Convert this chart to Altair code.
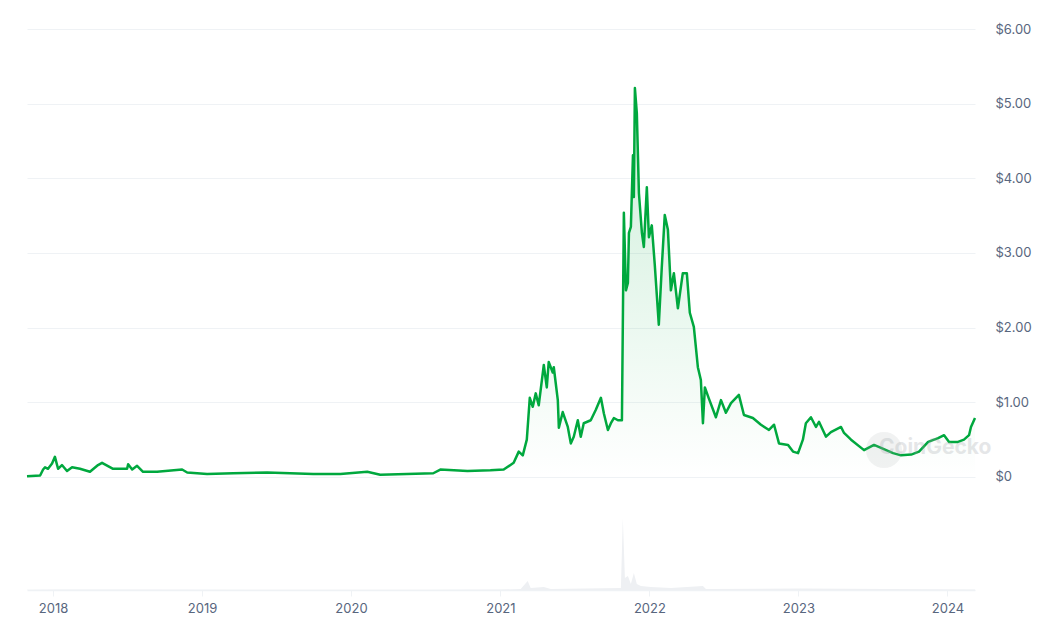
import altair as alt
import pandas as pd
import numpy as np

# Price series: time in decimal years, price in USD
price_t = [
    2017.825, 2017.913, 2017.933, 2017.946, 2017.966, 2017.993, 2018.013, 2018.034, 2018.060, 2018.094,
    2018.128, 2018.181, 2018.248, 2018.302, 2018.329, 2018.403, 2018.497, 2018.504, 2018.531, 2018.564,
    2018.604, 2018.698, 2018.866, 2018.900, 2019.034, 2019.209, 2019.437, 2019.746, 2019.928, 2020.109,
    2020.196, 2020.552, 2020.599, 2020.781, 2020.935, 2021.022, 2021.089, 2021.123, 2021.150, 2021.177,
    2021.197, 2021.217, 2021.237, 2021.257, 2021.291, 2021.311, 2021.324, 2021.351, 2021.358, 2021.385,
    2021.392, 2021.418, 2021.452, 2021.472, 2021.492, 2021.519, 2021.539, 2021.559, 2021.606, 2021.640,
    2021.674, 2021.694, 2021.721, 2021.741, 2021.761, 2021.788, 2021.815, 2021.828, 2021.842, 2021.855,
    2021.862, 2021.875, 2021.889, 2021.895, 2021.902, 2021.915, 2021.929, 2021.949, 2021.962, 2021.982,
    2021.996, 2022.016, 2022.036, 2022.063, 2022.083, 2022.103, 2022.124, 2022.144, 2022.164, 2022.191,
    2022.224, 2022.251, 2022.271, 2022.298, 2022.325, 2022.345, 2022.359, 2022.372, 2022.399, 2022.446,
    2022.480, 2022.513, 2022.547, 2022.600, 2022.634, 2022.694, 2022.748, 2022.802, 2022.836, 2022.869,
    2022.930, 2022.963, 2022.997, 2023.030, 2023.050, 2023.084, 2023.118, 2023.138, 2023.185, 2023.218,
    2023.286, 2023.306, 2023.353, 2023.440, 2023.507, 2023.554, 2023.635, 2023.688, 2023.756, 2023.809,
    2023.870, 2023.937, 2023.977, 2024.011, 2024.071, 2024.111, 2024.145, 2024.158, 2024.185,
]
price_usd = [
    0.01, 0.02, 0.10, 0.13, 0.11, 0.18, 0.27, 0.11, 0.16, 0.08,
    0.13, 0.11, 0.07, 0.16, 0.19, 0.11, 0.11, 0.17, 0.10, 0.15,
    0.07, 0.07, 0.10, 0.06, 0.04, 0.05, 0.06, 0.04, 0.04, 0.07,
    0.03, 0.05, 0.10, 0.08, 0.09, 0.10, 0.19, 0.34, 0.29, 0.50,
    1.06, 0.94, 1.12, 0.96, 1.50, 1.20, 1.54, 1.40, 1.47, 1.03,
    0.66, 0.87, 0.67, 0.45, 0.54, 0.76, 0.54, 0.72, 0.76, 0.90,
    1.06, 0.85, 0.63, 0.72, 0.79, 0.76, 0.76, 3.54, 2.50, 2.60,
    3.27, 3.35, 4.31, 3.75, 5.21, 4.87, 3.80, 3.27, 3.08, 3.88,
    3.21, 3.37, 2.84, 2.04, 2.81, 3.51, 3.31, 2.50, 2.73, 2.26,
    2.73, 2.73, 2.20, 2.01, 1.47, 1.30, 0.72, 1.20, 1.05, 0.80,
    1.03, 0.86, 0.99, 1.10, 0.83, 0.79, 0.70, 0.63, 0.70, 0.45,
    0.43, 0.34, 0.32, 0.50, 0.72, 0.80, 0.67, 0.74, 0.54, 0.60,
    0.67, 0.59, 0.50, 0.36, 0.43, 0.39, 0.32, 0.29, 0.30, 0.34,
    0.47, 0.52, 0.56, 0.47, 0.47, 0.50, 0.56, 0.67, 0.79,
]

# Trading volume (arbitrary units)
vol_t = [2017.825, 2018.013, 2018.5, 2019.5, 2020.5, 2021.0, 2021.136, 2021.183, 2021.203, 2021.291,
         2021.338, 2021.808, 2021.821, 2021.835, 2021.855, 2021.875, 2021.895, 2021.915, 2021.942,
         2022.009, 2022.144, 2022.359, 2022.379, 2023.016, 2024.185]
vol_units = [3, 6, 4, 2, 2, 4, 10, 90, 20, 30,
             10, 20, 720, 120, 140, 60, 170, 60, 40,
             30, 20, 40, 10, 15, 5]

year_ticks = ["2018", "2019", "2020", "2021", "2022", "2023", "2024"]
price_ticks = [0, 1, 2, 3, 4, 5, 6]


def to_date(t):
    y = int(np.floor(t))
    return pd.Timestamp(year=y, month=1, day=1) + pd.to_timedelta((t - y) * 365.25, unit="D")


price_df = pd.DataFrame({"date": [to_date(t) for t in price_t], "price": price_usd})
vol_df = pd.DataFrame({"date": [to_date(t) for t in vol_t], "volume": vol_units})

x_domain = [to_date(price_t[0]).isoformat(), to_date(price_t[-1]).isoformat()]
tick_dates = [pd.Timestamp(f"{y}-01-01").isoformat() for y in year_ticks]

FONT = "Inter"
LABEL_COLOR = "#58667e"
GRID_COLOR = "#eff2f5"
GREEN = "#00a83e"

x_scale = alt.Scale(domain=x_domain, nice=False, padding=0)
x_axis = alt.Axis(
    title=None, format="%Y", values=tick_dates, grid=False,
    domainColor=GRID_COLOR, domainWidth=1.5, tickColor=GRID_COLOR, tickSize=6,
    labelColor=LABEL_COLOR, labelFont=FONT, labelFontSize=13, labelPadding=6,
)
x_enc = alt.X("date:T", scale=x_scale, axis=x_axis)

price_scale = alt.Scale(domain=[-1.5134, 6], nice=False, zero=False)
price_axis = alt.Axis(
    title=None, orient="right", values=price_ticks,
    labelExpr="datum.value == 0 ? '$0' : '$' + format(datum.value, '.2f')",
    grid=True, gridColor=GRID_COLOR, gridWidth=1,
    domain=False, ticks=False, labelPadding=20,
    labelColor=LABEL_COLOR, labelFont=FONT, labelFontSize=13,
)

volume = alt.Chart(vol_df).mark_area(color="#eef0f3", interpolate="linear").encode(
    x=x_enc,
    y=alt.Y("volume:Q", scale=alt.Scale(domain=[0, 5610], nice=False), axis=None),
)

gradient = alt.Gradient(
    gradient="linear",
    stops=[
        alt.GradientStop(color="rgba(0,168,62,0.20)", offset=0),
        alt.GradientStop(color="rgba(0,168,62,0.0)", offset=1),
    ],
    x1=1, x2=1, y1=0, y2=1,
)

area = alt.Chart(price_df).mark_area(color=gradient).encode(
    x=x_enc,
    y=alt.Y("price:Q", scale=price_scale, axis=price_axis),
    y2=alt.datum(0),
)

line = alt.Chart(price_df).mark_line(color=GREEN, strokeWidth=2.5, strokeJoin="round").encode(
    x=x_enc,
    y=alt.Y("price:Q", scale=price_scale, axis=price_axis),
)

wm_circle = alt.Chart(pd.DataFrame({"a": [0]})).mark_circle(
    size=1300, color="#9aa0a6", opacity=0.14
).encode(x=alt.value(857), y=alt.value(421))

wm_text = alt.Chart(pd.DataFrame({"label": ["CoinGecko"]})).mark_text(
    font=FONT, fontSize=21, fontWeight="bold", color="#9aa0a6", opacity=0.25, align="left", baseline="middle"
).encode(x=alt.value(852), y=alt.value(419), text="label:N")

price_layer = alt.layer(area, line, wm_circle, wm_text)

chart = alt.layer(volume, price_layer).resolve_scale(y="independent").properties(
    width=948, height=561,
    background="white",
    autosize=alt.AutoSizeParams(type="none"),
    padding={"left": 27, "top": 29, "right": 87, "bottom": 42},
).configure_view(strokeWidth=0, stroke="transparent")

chart.save("out.html", embed_options={"renderer": "svg", "actions": False})
